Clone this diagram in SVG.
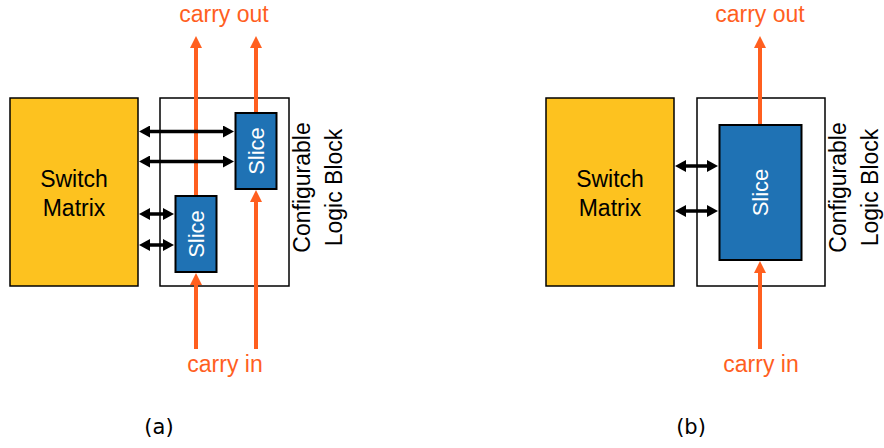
<svg xmlns="http://www.w3.org/2000/svg" width="884" height="448" viewBox="0 0 884 448">
<style>
.sm{fill:#FDC21F;stroke:#000;stroke-width:1.5}
.clb{fill:#fff;stroke:#000;stroke-width:1.5}
.slice{fill:#1F72B4;stroke:#000;stroke-width:2}
.t{font-family:"Liberation Sans",Arial,sans-serif;font-size:23px;fill:#000}
.ts{font-family:"Liberation Sans",Arial,sans-serif;font-size:22px;fill:#fff}
.to{font-family:"Liberation Sans",Arial,sans-serif;font-size:23px;fill:#FF5F1F}
.cap{font-family:"DejaVu Sans",sans-serif;font-size:21px;fill:#000}
.carry{stroke:#FF5F1F;stroke-width:4;fill:none;marker-end:url(#oa)}
.bus{stroke:#000;stroke-width:3.5;fill:none;marker-start:url(#ba);marker-end:url(#ba)}
</style>
<defs>
<marker id="oa" markerUnits="userSpaceOnUse" markerWidth="12" markerHeight="12" refX="6" refY="6" orient="auto" viewBox="0 0 12 12">
<path d="M0,0 L12,6 L0,12 z" fill="#FF5F1F"/>
</marker>
<marker id="ba" markerUnits="userSpaceOnUse" markerWidth="11" markerHeight="12" refX="5" refY="6" orient="auto-start-reverse" viewBox="0 0 11 12">
<path d="M0,0 L11,6 L0,12 z" fill="#000"/>
</marker>
</defs>

<!-- Panel (a) -->
<g id="a-switch-matrix">
<rect class="sm" x="10" y="98" width="128" height="188"/>
<text class="t" x="74" y="187" text-anchor="middle">Switch</text>
<text class="t" x="74" y="216" text-anchor="middle">Matrix</text>
</g>
<g id="a-clb">
<rect class="clb" x="160" y="98" width="129" height="188"/>
<text class="t" font-size="22" transform="translate(310,187.5) rotate(-90)" text-anchor="middle"><tspan x="0" y="0">Configurable</tspan><tspan x="0" y="32">Logic Block</tspan></text>
</g>
<g id="a-slice-upper">
<rect class="slice" x="235.5" y="113" width="41" height="76"/>
<text class="ts" transform="translate(264,151) rotate(-90)" text-anchor="middle">Slice</text>
</g>
<g id="a-slice-lower">
<rect class="slice" x="175.5" y="196" width="41" height="76"/>
<text class="ts" transform="translate(204,234) rotate(-90)" text-anchor="middle">Slice</text>
</g>
<g id="a-labels">
<text class="to" x="224" y="22" text-anchor="middle">carry out</text>
<text class="to" x="225" y="372" text-anchor="middle">carry in</text>
<text class="cap" x="159" y="434" text-anchor="middle">(a)</text>
</g>

<!-- Panel (b) -->
<g id="b-switch-matrix">
<rect class="sm" x="546" y="98" width="128" height="188"/>
<text class="t" x="610" y="187" text-anchor="middle">Switch</text>
<text class="t" x="610" y="216" text-anchor="middle">Matrix</text>
</g>
<g id="b-clb">
<rect class="clb" x="697" y="98" width="128" height="188"/>
<text class="t" font-size="22" transform="translate(846,187.5) rotate(-90)" text-anchor="middle"><tspan x="0" y="0">Configurable</tspan><tspan x="0" y="32">Logic Block</tspan></text>
</g>
<g id="b-slice">
<rect class="slice" x="719.5" y="125" width="82" height="135"/>
<text class="ts" transform="translate(768,192.5) rotate(-90)" text-anchor="middle">Slice</text>
</g>
<g id="b-labels">
<text class="to" x="760" y="22" text-anchor="middle">carry out</text>
<text class="to" x="761" y="372" text-anchor="middle">carry in</text>
<text class="cap" x="691" y="434" text-anchor="middle">(b)</text>
</g>

<g id="connectors">
<line class="carry" x1="196" y1="349" x2="196" y2="279"/>
<line class="carry" x1="196" y1="195" x2="196" y2="42"/>
<line class="carry" x1="256" y1="349" x2="256" y2="196"/>
<line class="carry" x1="256" y1="112" x2="256" y2="42"/>
<line class="bus" x1="145" y1="131.5" x2="228" y2="131.5"/>
<line class="bus" x1="145" y1="161.5" x2="228" y2="161.5"/>
<line class="bus" x1="145" y1="214" x2="168" y2="214"/>
<line class="bus" x1="145" y1="245" x2="168" y2="245"/>
<line class="carry" x1="760" y1="349" x2="760" y2="267"/>
<line class="carry" x1="760" y1="124" x2="760" y2="42"/>
<line class="bus" x1="681" y1="166" x2="712" y2="166"/>
<line class="bus" x1="681" y1="211" x2="712" y2="211"/>
</g>
</svg>
